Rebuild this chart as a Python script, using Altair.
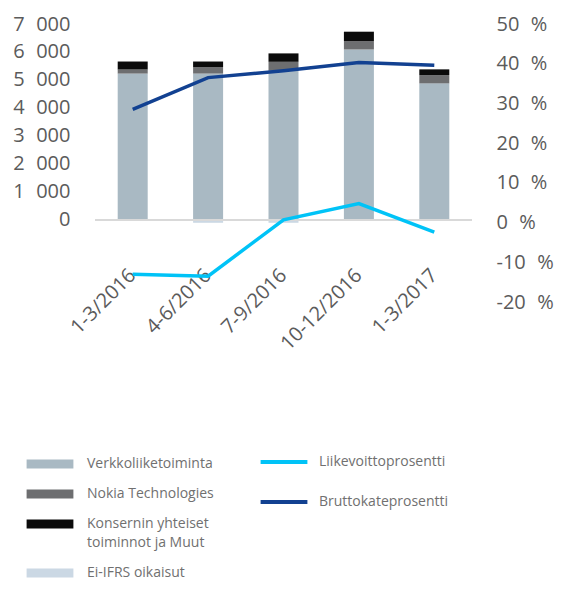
import altair as alt
import pandas as pd

quarters = ["1-3/2016", "4-6/2016", "7-9/2016", "10-12/2016", "1-3/2017"]
verkko = [5230, 5230, 5330, 6090, 4880]
nokia_tech = [145, 225, 320, 300, 295]
konserni = [285, 205, 300, 335, 205]
ei_ifrs = [0, -100, -100, 0, 0]
liikevoitto = [-13.0, -13.5, 0.7, 4.8, -2.4]
brutto = [28.5, 36.5, 38.2, 40.3, 39.6]

seg_names = ["Verkkoliiketoiminta", "Nokia Technologies",
             "Konsernin yhteiset toiminnot ja Muut", "Ei-IFRS oikaisut"]
seg_colors = ["#a9b9c3", "#6d6e70", "#0b0b0b", "#cbd8e4"]
line_names = ["Liikevoittoprosentti", "Bruttokateprosentti"]
line_colors = ["#00c3f7", "#124191"]

left_ticks = [0, 1000, 2000, 3000, 4000, 5000, 6000, 7000]
right_ticks = [-20, -10, 0, 10, 20, 30, 40, 50]
zero_line = [0]

rows = []
for i, q in enumerate(quarters):
    for k, (name, vals) in enumerate(zip(seg_names, [verkko, nokia_tech, konserni, ei_ifrs])):
        rows.append({"quarter": q, "segment": name, "value": vals[i], "ord": k})
bar_df = pd.DataFrame(rows)

lrows = []
for name, vals in zip(line_names, [liikevoitto, brutto]):
    for i, q in enumerate(quarters):
        lrows.append({"quarter": q, "series": name, "pct": vals[i]})
line_df = pd.DataFrame(lrows)

FONT = "Open Sans"
AX_COLOR = "#5b5b5b"
LEG_COLOR = "#707070"

x_enc = alt.X(
    "quarter:N", sort=quarters,
    scale=alt.Scale(paddingInner=0, paddingOuter=0),
    axis=alt.Axis(title=None, labelAngle=-45, labelAlign="right", labelBaseline="middle",
                  labelFont=FONT, labelFontSize=20, labelColor=AX_COLOR, labelOverlap=False,
                  ticks=False, domain=False, labelPadding=4, offset=-34),
)

left_scale = alt.Scale(domain=[-2929, 7000], nice=False, zero=False)
left_axis = alt.Axis(title=None, orient="left", values=left_ticks, grid=False,
                     ticks=False, domain=False, labelPadding=25, labelOverlap=False,
                     labelExpr="replace(format(datum.value, ','), ',', '\u2007')",
                     labelFont=FONT, labelFontSize=20, labelColor=AX_COLOR)

bars = alt.Chart(bar_df).mark_bar(size=30).encode(
    x=x_enc,
    y=alt.Y("value:Q", stack="zero", scale=left_scale, axis=left_axis),
    fill=alt.Fill("segment:N", scale=alt.Scale(domain=seg_names, range=seg_colors),
                  legend=alt.Legend(
                      orient="none", legendX=-71, legendY=433, title=None, padding=0,
                      symbolType="M-5.2,-1H5.2V1H-5.2Z", symbolSize=81, symbolStrokeWidth=0,
                      symbolOffset=19, labelOffset=30, rowPadding=16,
                      labelFont=FONT, labelFontSize=14, labelColor=LEG_COLOR, labelLimit=300,
                      labelExpr="datum.label == 'Konsernin yhteiset toiminnot ja Muut' ? ['Konsernin yhteiset', 'toiminnot ja Muut'] : datum.label")),
    order=alt.Order("ord:Q"),
)

zero_rule = alt.Chart(pd.DataFrame({"z": zero_line})).mark_rule(color="#d9d9d9", strokeWidth=2).encode(
    y=alt.Y("z:Q", scale=left_scale, axis=left_axis)
)

lines = alt.Chart(line_df).mark_line(strokeWidth=3.5).encode(
    x=alt.X("quarter:N", sort=quarters),
    y=alt.Y("pct:Q", scale=alt.Scale(domain=[-20, 50], nice=False, zero=False),
            axis=alt.Axis(title=None, orient="right", values=right_ticks, grid=False,
                          ticks=False, domain=False, labelPadding=24, labelOverlap=False,
                          labelExpr="datum.value + '\u2007%'",
                          labelFont=FONT, labelFontSize=20, labelColor=AX_COLOR)),
    stroke=alt.Stroke("series:N", scale=alt.Scale(domain=line_names, range=line_colors),
                      legend=alt.Legend(
                          orient="none", legendX=163, legendY=431, title=None, padding=0,
                          symbolType="M-5.2,0H5.2", symbolSize=81, symbolStrokeWidth=4,
                          symbolOffset=19, labelOffset=28, rowPadding=24,
                          labelFont=FONT, labelFontSize=14, labelColor=LEG_COLOR, labelLimit=300)),
)

left = alt.layer(bars, zero_rule)
chart = alt.layer(left, lines).resolve_scale(y="independent", fill="independent", stroke="independent").properties(
    width=377, height=278,
    background="white",
    autosize=alt.AutoSizeParams(type="none"),
    padding={"left": 87, "top": 16, "right": 85, "bottom": 282},
).configure(
    view=alt.ViewConfig(stroke=None),
    style={"guide-label": {"lineHeight": 19}},
)

chart.save("out.html", embed_options={"renderer": "svg", "actions": False})
